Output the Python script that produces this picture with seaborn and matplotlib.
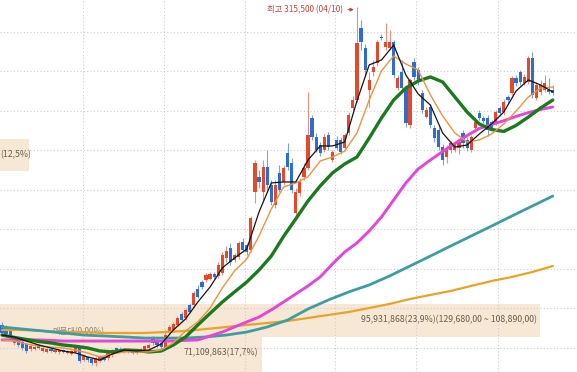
import matplotlib
matplotlib.use("Agg")
import matplotlib.pyplot as plt
import seaborn as sns
import numpy as np
import pandas as pd

# ---------------- data (prices in thousand KRW) ----------------
open_ = [114.3,113.0,111.1,102.9,104.8,103.5,102.2,99.1,99.1,101.6,
         97.8,97.2,99.1,97.2,97.2,98.4,96.6,95.9,97.2,100.3,
         92.1,94.0,92.8,90.2,91.5,94.0,93.4,95.3,99.7,99.1,
         97.2,99.1,98.4,96.6,97.8,98.4,99.7,106.0,104.8,102.9,
         99.7,109.2,111.1,114.3,121.2,118.7,126.9,126.9,137.1,141.5,
         142.8,143.4,146.6,145.3,147.2,156.7,163.0,155.4,157.3,166.8,
         164.9,161.8,198.5,208.0,198.5,214.3,202.9,190.2,210.5,204.8,
         223.1,216.8,185.2,197.8,208.0,213.7,245.3,233.3,228.2,225.0,
         234.5,218.7,231.4,231.4,226.3,235.8,251.6,256.7,302.3,289.6,
         263.0,274.4,280.1,296.6,290.2,289.6,293.4,264.3,274.4,264.3,
         240.9,280.8,275.7,261.1,245.9,252.3,239.0,237.7,226.9,220.6,
         225.0,225.0,226.3,235.8,231.4,225.0,239.0,248.5,245.3,245.3,
         242.8,242.1,251.6,249.1,258.6,261.1,270.6,274.4,267.5,268.1,
         283.3,258.0,261.8,263.0,263.0,263.0]
close = [109.2,108.6,107.3,105.4,101.6,99.7,97.8,101.0,100.3,99.7,
         99.7,99.1,97.8,98.4,98.4,97.2,97.8,97.8,101.0,91.5,
         94.7,92.1,90.2,93.4,94.7,92.1,97.2,98.4,97.8,97.8,
         99.1,97.2,96.6,97.8,99.1,101.0,101.6,102.9,101.6,100.3,
         107.9,113.0,114.9,118.7,117.4,123.8,122.5,134.5,132.0,138.3,
         145.9,146.6,144.7,152.3,158.6,161.1,154.2,158.6,166.2,161.8,
         160.5,182.0,216.8,204.8,214.3,202.9,192.1,202.9,199.7,213.7,
         214.3,199.7,198.5,204.8,213.7,234.5,233.3,225.0,223.1,233.3,
         226.9,223.8,226.3,223.8,234.5,247.2,256.7,292.8,293.4,275.7,
         269.4,277.6,293.4,295.9,293.4,293.4,272.5,270.6,264.3,242.1,
         269.4,271.3,268.1,250.4,250.4,240.9,232.6,226.9,218.7,226.3,
         229.5,228.8,230.1,229.5,226.3,233.3,242.8,245.3,243.4,237.7,
         239.0,249.1,248.5,255.4,256.7,270.6,267.5,268.1,271.3,283.3,
         259.9,266.2,266.2,267.5,261.8,261.1]
high = [116.2,114.3,112.4,106.7,106.0,104.8,103.5,102.2,101.6,102.2,
        101.0,99.7,99.7,99.1,99.1,99.1,98.4,98.4,101.6,101.0,
        95.9,94.7,94.0,94.0,95.3,94.7,97.8,99.1,100.3,100.3,
        99.7,99.7,99.1,98.4,99.7,101.6,102.9,107.3,106.0,104.8,
        111.1,114.3,116.2,120.0,122.5,125.0,128.2,135.8,139.6,142.8,
        147.2,147.8,147.8,154.2,160.5,164.3,166.2,159.9,167.4,169.3,
        166.2,183.3,218.7,212.4,218.7,225.0,206.1,206.1,215.6,215.6,
        229.5,220.0,201.0,207.3,216.8,261.8,247.2,235.8,230.1,235.2,
        236.4,225.0,233.9,233.3,235.8,249.1,259.2,315.5,307.3,292.1,
        274.4,282.0,294.7,298.5,305.4,301.0,294.7,272.5,282.0,266.2,
        270.6,283.3,277.6,263.0,252.3,254.2,240.9,239.6,228.8,228.2,
        230.7,230.1,232.0,237.7,233.3,234.5,245.3,250.4,246.6,247.2,
        244.0,250.4,252.9,257.3,259.9,271.9,272.5,275.7,273.2,284.6,
        287.1,268.1,269.4,272.5,270.6,266.2]
low = [107.3,106.7,106.0,101.6,100.3,98.4,96.6,97.8,98.4,99.1,
       97.2,96.6,97.2,96.6,95.9,96.6,95.9,95.3,96.6,90.2,
       91.5,90.9,89.0,88.3,90.9,91.5,92.1,94.0,97.2,97.2,
       96.6,96.6,95.9,95.9,97.2,97.8,99.1,101.6,100.3,99.1,
       98.4,107.9,110.5,113.6,116.2,117.4,121.9,125.7,131.4,137.1,
       141.5,142.8,143.4,144.0,145.9,154.2,152.3,154.2,156.1,160.5,
       158.6,160.5,191.5,201.0,193.4,199.7,190.2,188.3,198.5,202.9,
       212.4,197.8,182.0,195.9,206.1,212.4,231.4,223.8,221.3,223.8,
       225.0,217.5,225.0,222.5,224.4,234.5,250.4,255.4,288.4,272.5,
       252.3,271.9,278.2,294.7,288.4,288.4,270.6,263.0,263.0,239.6,
       239.0,269.4,266.2,248.5,245.3,239.0,230.1,225.0,215.6,216.8,
       223.1,223.8,222.5,226.3,224.4,223.8,237.7,244.0,242.1,233.9,
       237.7,240.9,246.6,247.2,254.8,259.9,265.6,266.2,266.2,266.8,
       258.0,256.7,259.9,261.8,260.5,259.9]

# moving averages (every 3 sessions / every 5 sessions)
fast_idx = list(range(0, 136, 3))
ma5 = [107.9,106.7,104.1,101.6,99.7,97.8,96.6,94.0,92.1,95.9,98.4,97.8,98.4,102.2,111.1,
       118.1,128.8,138.3,150.4,156.7,162.4,185.8,204.2,204.8,204.8,218.7,227.6,227.6,230.1,
       256.1,278.9,282.0,291.5,272.5,260.5,253.5,235.8,226.9,228.2,235.2,241.5,249.1,262.4,
       269.4,266.2,261.8]
ma10 = [104.8,104.1,102.2,101.0,100.3,99.7,98.4,96.6,94.0,95.9,97.2,97.2,97.2,98.4,102.9,
        110.5,116.2,125.0,137.7,148.5,156.1,170.6,187.7,201.6,204.2,208.0,218.1,220.6,224.4,
        235.8,256.7,275.1,284.6,279.5,275.7,259.9,246.6,235.8,230.1,231.4,235.2,241.5,249.7,
        258.6,264.3,264.9]
ma20 = [107.9,106.4,105.1,103.8,102.9,101.6,100.8,99.7,97.8,97.2,98.4,98.1,97.2,97.8,101.6,
        106.7,114.3,121.6,128.8,135.2,141.5,149.1,157.9,170.3,181.4,192.8,202.3,210.5,216.2,
        220.6,232.6,245.3,256.7,264.3,268.7,271.3,268.1,258.6,249.1,241.5,238.0,236.8,240.6,
        245.9,251.6,256.7]
ma60 = [104.8,104.8,104.8,104.8,104.5,104.1,104.1,104.1,104.1,104.1,104.1,104.1,104.1,104.1,
        104.1,104.5,104.8,107.3,109.8,113.0,116.2,119.3,123.8,128.8,133.9,139.0,144.7,152.9,
        160.5,166.2,173.8,182.6,193.4,204.2,213.0,218.7,224.1,229.2,234.2,238.7,241.2,243.6,
        246.3,248.7,250.7,252.3]
slow_idx = list(range(0, 136, 5))
ma120 = [113.0,111.7,110.5,109.2,107.9,107.3,106.7,106.0,106.0,106.0,106.7,107.9,109.8,113.0,
         117.4,124.4,130.1,135.2,139.6,145.3,151.6,157.9,164.3,170.6,176.9,183.3,189.6,195.9]
ma240 = [111.1,111.1,110.5,109.8,109.8,109.2,109.2,109.2,109.8,110.5,111.7,113.0,114.3,115.5,
         116.8,118.7,120.6,122.5,125.0,127.6,130.7,133.3,135.8,139.0,142.1,144.7,147.8,151.6]

# volume-by-price bands
band_top = [127.3, 106.6, 232.0]
band_bottom = [106.7, 80.0, 211.8]
band_len = [132.4, 64.2, 7.1]
band_label = ["95,931,868(23,9%)(129,680,00 ~ 108,890,00)", "71,109,863(17,7%)", "(12,5%)"]
band_label_y = [117.4, 96.6, 221.9]
band_label_x = [131.1, 62.7, -0.4]
band_label_ha = ["right", "right", "left"]

month_lines = [19.85, 39.7, 59.6, 81.6, 101.5, 121.6]
price_grid = [100, 125, 150, 175, 200, 225, 250, 275, 300]

peak_text = "최고 315,500 (04/10)"
peak_idx = 87
cur_text = "매물대(0,00%)"

# ---------------- drawing ----------------
sns.set_theme(style="white")
plt.rcParams["font.family"] = ["Noto Sans CJK KR", "DejaVu Sans"]

fig = plt.figure(figsize=(5.77, 3.72), dpi=100)
ax = fig.add_axes([0, 0, 1, 1])
ax.set_facecolor("white")
for s in ax.spines.values():
    s.set_visible(False)

grid_kw = dict(color="#cdcdcd", lw=0.8, ls=(0, (1, 2)), zorder=0.5)
for g in price_grid:
    ax.axhline(g, **grid_kw)
for m in month_lines:
    ax.axvline(m, **grid_kw)

band_color = "#f6e8d4"
for t, b, L in zip(band_top, band_bottom, band_len):
    ax.barh((t + b) / 2, L, height=t - b, left=-0.49, color=band_color,
            edgecolor="none", zorder=0.3)

txt_color = "#6b5d4b"
for lab, lx, ly, ha in zip(band_label, band_label_x, band_label_y, band_label_ha):
    ax.text(lx, ly, lab, ha=ha, va="center", fontsize=6.3, color=txt_color, zorder=6)
ax.text(12.3, 109.8, cur_text, ha="left", va="center", fontsize=6.0, color="#8a8478", zorder=2)

# candles
df = pd.DataFrame({"o": open_, "h": high, "l": low, "c": close})
df["i"] = np.arange(len(df))
up = df["c"] >= df["o"]
red, blue = "#e4492b", "#2f6cd0"
red_w, blue_w = "#ec8f7d", "#7fa3e0"
ax.vlines(df["i"][up], df["l"][up], df["h"][up], color=red_w, lw=0.8, zorder=2)
ax.vlines(df["i"][~up], df["l"][~up], df["h"][~up], color=blue_w, lw=0.8, zorder=2)
body_b = np.minimum(df["o"], df["c"])
body_h = np.maximum(np.abs(df["c"] - df["o"]), 0.7)
ax.bar(df["i"][up], body_h[up], bottom=body_b[up], width=0.78, color=red, zorder=3, linewidth=0)
ax.bar(df["i"][~up], body_h[~up], bottom=body_b[~up], width=0.78, color=blue, zorder=3, linewidth=0)

# moving averages
slow = pd.DataFrame({"i": slow_idx, "ma120": ma120, "ma240": ma240})
fast = pd.DataFrame({"i": fast_idx, "ma5": ma5, "ma10": ma10, "ma20": ma20, "ma60": ma60})
lk = dict(solid_joinstyle="round", solid_capstyle="round")
sns.lineplot(data=slow, x="i", y="ma240", ax=ax, color="#e8a328", lw=1.6, zorder=4, **lk)
sns.lineplot(data=slow, x="i", y="ma120", ax=ax, color="#3f9ca3", lw=2.0, zorder=4, **lk)
sns.lineplot(data=fast, x="i", y="ma60", ax=ax, color="#e347d9", lw=2.1, zorder=4, **lk)
sns.lineplot(data=fast, x="i", y="ma20", ax=ax, color="#1b7a1f", lw=2.4, zorder=4, **lk)
sns.lineplot(data=fast, x="i", y="ma10", ax=ax, color="#ef9242", lw=1.0, zorder=5, **lk)
sns.lineplot(data=fast, x="i", y="ma5", ax=ax, color="#151515", lw=0.9, zorder=5, **lk)
ax.set_xlabel("")
ax.set_ylabel("")
ax.set_xticks([])
ax.set_yticks([])
ax.set_xlim(-0.49, 140.93)
ax.set_ylim(84.5, 320)

# peak annotation
ann_color = "#c2473a"
ax.text(83.6, high[peak_idx] - 1.6, peak_text, ha="right", va="center", fontsize=6.0, color=ann_color, zorder=6)
ax.annotate("", xy=(peak_idx - 0.1, high[peak_idx] - 1.6), xytext=(84.1, high[peak_idx] - 1.6),
            arrowprops=dict(arrowstyle="-|>", color=ann_color, lw=0.7, mutation_scale=5), zorder=6)

fig.savefig("out.png", dpi=100)
